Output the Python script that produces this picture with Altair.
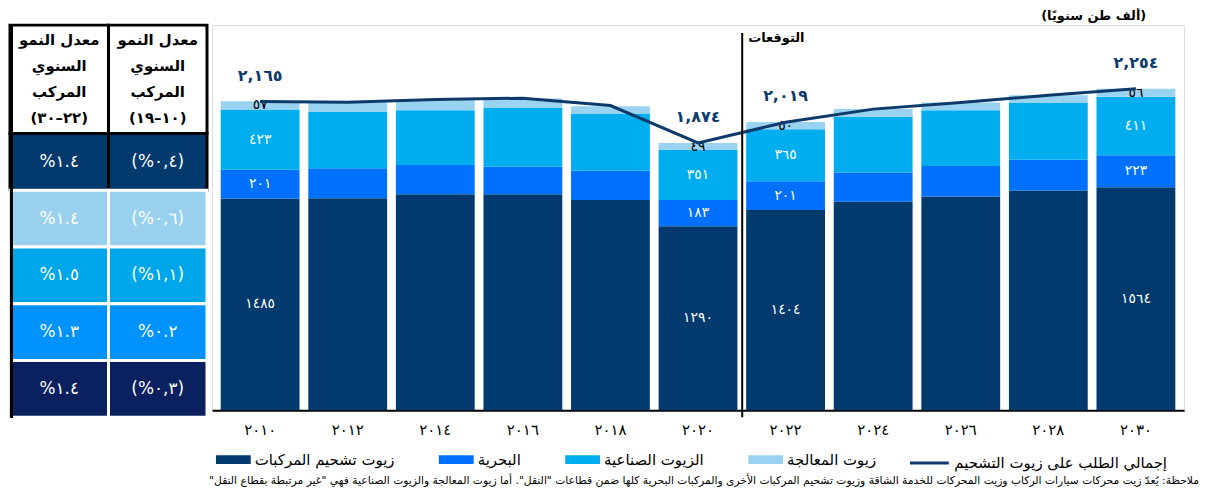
import altair as alt
import pandas as pd

# ---------------- data ----------------
year_labels = ["٢٠١٠", "٢٠١٢", "٢٠١٤", "٢٠١٦", "٢٠١٨", "٢٠٢٠",
               "٢٠٢٢", "٢٠٢٤", "٢٠٢٦", "٢٠٢٨", "٢٠٣٠"]
vehicle = [1485, 1486, 1514, 1514, 1474, 1290, 1404, 1463, 1498, 1541, 1564]
marine = [201, 210, 205, 193, 205, 183, 201, 203, 215, 215, 223]
industrial = [423, 396, 384, 412, 401, 351, 365, 391, 390, 398, 411]
process = [57, 66, 75, 66, 51, 49, 50, 54, 54, 54, 56]
total_demand = [2165, 2160, 2178, 2188, 2136, 1874, 2019, 2111, 2157, 2208, 2254]
labelled_years = ["٢٠١٠", "٢٠٢٠", "٢٠٢٢", "٢٠٣٠"]

series_names = ["زيوت تشحيم المركبات", "البحرية", "الزيوت الصناعية", "زيوت المعالجة"]
series_colors = ["#023A6D", "#0070FF", "#00AEEF", "#99D3F1"]
total_name = "إجمالي الطلب على زيوت التشحيم"
line_color = "#0D3A6B"

forecast_label = "التوقعات"
unit_label = "\u200f(ألف طن سنويًا)\u200f"
footnote = ("\u200fملاحظة: يُعدّ زيت محركات سيارات الركاب وزيت المحركات للخدمة الشاقة وزيوت تشحيم "
            "المركبات الأخرى والمركبات البحرية كلها ضمن قطاعات \"النقل\". أما زيوت المعالجة "
            "والزيوت الصناعية فهي \"غير مرتبطة بقطاع النقل\"\u200f")

# CAGR table
table_rows = ["vehicle", "process", "industrial", "marine", "total"]
table_row_colors = ["#023A6D", "#99D0EE", "#00A6EA", "#0092FF", "#0B215F"]
table_cols = ["c22_30", "c10_19"]
table_headers = ["معدل النمو|السنوي|المركب|(٢٢–٣٠)", "معدل النمو|السنوي|المركب|(١٠–١٩)"]
cagr_22_30 = ["%١.٤", "%١.٤", "%١.٥", "%١.٣", "%١.٤"]
cagr_10_19 = ["(%٠,٤)", "(%٠,٦)", "(%١,١)", "%٠.٢", "(%٠,٣)"]

AR = str.maketrans("0123456789", "٠١٢٣٤٥٦٧٨٩")


def ar(s):
    return str(s).translate(AR)


# ---------------- main chart ----------------
rows = []
for i, y in enumerate(year_labels):
    for k, (name, vals) in enumerate(zip(series_names, [vehicle, marine, industrial, process])):
        rows.append({"year": y, "series": name, "idx": k, "value": vals[i], "label": ar(vals[i])})
df_bars = pd.DataFrame(rows)

df_line = pd.DataFrame({
    "year": year_labels,
    "total": total_demand,
    "name": [total_name] * len(year_labels),
    "tlabel": [ar(f"{v:,}") for v in total_demand],
})

W, H = 977, 387
YMAX = 2700

x_enc = alt.X("year:N", sort=year_labels,
              scale=alt.Scale(paddingInner=0.1, paddingOuter=0.1),
              axis=alt.Axis(title=None, labelAngle=0, ticks=False, domainColor="black",
                            domainWidth=2, labelFontSize=15, labelPadding=12,
                            labelColor="black", labelFont="DejaVu Sans"))
y_scale = alt.Scale(domain=[0, YMAX], nice=False, zero=True)

bars = alt.Chart(df_bars).mark_bar().encode(
    x=x_enc,
    y=alt.Y("value:Q", stack="zero", scale=y_scale, axis=None),
    color=alt.Color("series:N", scale=alt.Scale(domain=series_names, range=series_colors),
                    legend=alt.Legend(title=None, orient="none", direction="horizontal",
                                      legendX=4, legendY=419,
                                      symbolType="M-1,-0.25H1V0.25H-1Z", symbolSize=1225,
                                      symbolStrokeWidth=0, labelFontSize=15, labelLimit=400,
                                      labelOffset=4, columnPadding=44, padding=0,
                                      labelColor="black", labelFont="DejaVu Sans")),
    order=alt.Order("idx:Q", sort="ascending"),
)

seg_labels = alt.Chart(df_bars).transform_stack(
    stack="value", groupby=["year"], sort=[alt.SortField("idx", order="ascending")],
    as_=["v0", "v1"]
).transform_filter(
    alt.FieldOneOfPredicate(field="year", oneOf=labelled_years)
).transform_calculate(
    mid="(datum.v0 + datum.v1) / 2"
).mark_text(fontSize=14, font="DejaVu Sans").encode(
    x=alt.X("year:N", sort=year_labels),
    y=alt.Y("mid:Q", scale=y_scale, axis=None),
    text="label:N",
    color=alt.condition(alt.datum.series == series_names[3], alt.value("black"), alt.value("white")),
)

line = alt.Chart(df_line).mark_line(strokeWidth=3).encode(
    x=alt.X("year:N", sort=year_labels),
    y=alt.Y("total:Q", scale=y_scale, axis=None),
    stroke=alt.Stroke("name:N", scale=alt.Scale(range=[line_color]),
                      legend=alt.Legend(title=None, orient="none", legendX=700, legendY=419,
                                        symbolType="M-1,0H1", symbolSize=1521,
                                        symbolStrokeWidth=3, labelFontSize=15, labelLimit=400,
                                        labelOffset=4, padding=0, labelColor="black",
                                        labelFont="DejaVu Sans")),
)

total_labels = alt.Chart(df_line).transform_filter(
    alt.FieldOneOfPredicate(field="year", oneOf=labelled_years)
).mark_text(dy=-26, fontSize=16, fontWeight="bold", color=line_color, font="DejaVu Sans").encode(
    x=alt.X("year:N", sort=year_labels),
    y=alt.Y("total:Q", scale=y_scale, axis=None),
    text="tlabel:N",
)

df_fc = pd.DataFrame({"year": [year_labels[6]], "t": [forecast_label]})
rule = alt.Chart(df_fc).mark_rule(color="black", strokeWidth=2, xOffset=-4).encode(
    x=alt.X("year:N", sort=year_labels, bandPosition=0),
    y=alt.value(8), y2=alt.value(H + 7),
)
fc_text = alt.Chart(df_fc).mark_text(align="left", dx=2, fontSize=13, fontWeight="bold",
                                     color="black", font="DejaVu Sans").encode(
    x=alt.X("year:N", sort=year_labels, bandPosition=0),
    y=alt.value(13), text="t:N",
)

unit_text = alt.Chart(pd.DataFrame({"t": [unit_label]})).mark_text(
    align="right", fontSize=13, fontWeight="bold", color="black", font="DejaVu Sans"
).encode(x=alt.value(939), y=alt.value(-9), text="t:N")

note_text = alt.Chart(pd.DataFrame({"t": [footnote]})).mark_text(
    align="right", fontSize=10.8, color="black", font="DejaVu Sans"
).encode(x=alt.value(992), y=alt.value(458), text="t:N")

main = alt.layer(bars, seg_labels, line, total_labels, rule, fc_text, unit_text, note_text
                 ).resolve_scale(color="independent").properties(width=W, height=H)

# ---------------- CAGR table ----------------
TW, TH, HEAD = 198, 394, 109
df_head = pd.DataFrame({"col": table_cols, "h": table_headers})
tx = alt.X("col:N", sort=table_cols, axis=None, scale=alt.Scale(paddingInner=0, paddingOuter=0))

head_rect = alt.Chart(df_head).mark_rect(fill="white", stroke="black", strokeWidth=3).encode(
    x=tx, y=alt.value(0), y2=alt.value(HEAD))
head_text = alt.Chart(df_head).transform_calculate(
    lines="split(datum.h, '|')"
).mark_text(fontSize=15, fontWeight="bold", lineHeight=26, color="black",
            font="DejaVu Sans", baseline="top").encode(x=tx, y=alt.value(8), text="lines:N")

trows = []
for r, v1, v2 in zip(table_rows, cagr_22_30, cagr_10_19):
    trows.append({"row": r, "col": table_cols[0], "val": v1})
    trows.append({"row": r, "col": table_cols[1], "val": v2})
df_tab = pd.DataFrame(trows)
ty = alt.Y("row:N", sort=table_rows, axis=None,
           scale=alt.Scale(range=[HEAD, TH], paddingInner=0, paddingOuter=0))

body_rect = alt.Chart(df_tab).mark_rect(strokeWidth=3).encode(
    x=tx, y=ty,
    color=alt.Color("row:N", scale=alt.Scale(domain=table_rows, range=table_row_colors), legend=None),
    stroke=alt.condition(alt.datum.row == table_rows[0], alt.value("black"), alt.value("white")),
)
body_text = alt.Chart(df_tab).mark_text(fontSize=17, color="white", font="DejaVu Sans").encode(
    x=tx, y=ty, text="val:N")
border = alt.Chart(df_tab).mark_rule(color="black", strokeWidth=3).encode(
    x=alt.value(1.5), y=alt.value(0), y2=alt.value(TH))

table = alt.layer(body_rect, body_text, head_rect, head_text, border).properties(width=TW, height=TH)

chart = alt.hconcat(table, main, spacing=5, bounds="flush").resolve_scale(
    color="independent", stroke="independent"
).configure_view(stroke=None).configure(font="DejaVu Sans", padding=0)

chart.save("out.html", embed_options={"renderer": "svg", "actions": False})
